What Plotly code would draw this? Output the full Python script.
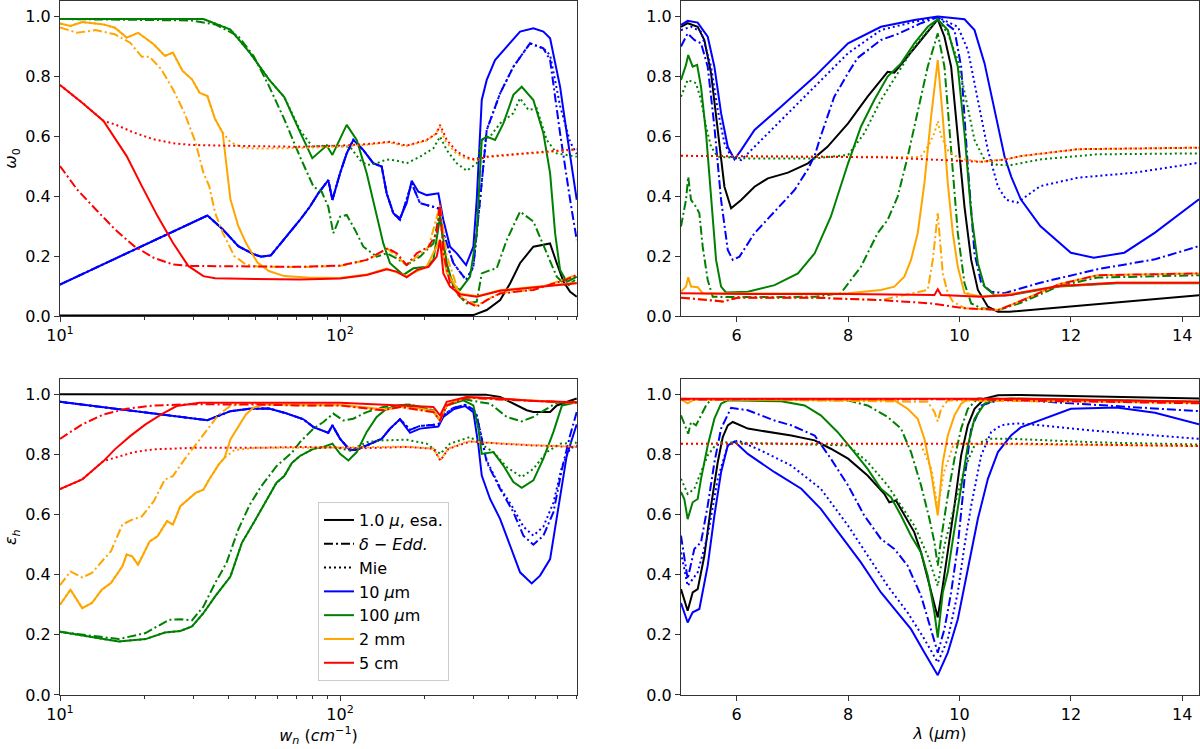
import plotly.graph_objects as go

# ---------------- top-left: single scattering albedo vs wavenumber ----------------
wn_w0_black = [10, 100, 280, 299, 334, 373, 405, 439, 490, 562, 594, 628, 663, 700]
w0_black = [0.002, 0.002, 0.002, 0.003, 0.02, 0.053, 0.109, 0.176, 0.231, 0.242, 0.176, 0.114, 0.081, 0.064]

wn_w0_blue = [10, 33.6, 38.1, 43.3, 49.1, 52.3, 56.6, 63.2, 71.9, 78, 83.6, 90.8, 93.9, 100,
              105.6, 111.5, 121.1, 131.5, 140.8, 146.7, 155, 163.7, 172.9, 180.2, 190.4, 203.9,
              224.4, 233.8, 247, 261, 281.8, 299.2, 307.6, 320.6, 334, 357.6, 393.6, 439.3,
              490, 532.1, 562.3, 610.5, 645, 700]
w0_blue = [0.105, 0.335, 0.289, 0.233, 0.206, 0.198, 0.202, 0.256, 0.32, 0.364, 0.409, 0.453, 0.387, 0.476,
           0.542, 0.587, 0.553, 0.509, 0.498, 0.409, 0.342, 0.326, 0.376, 0.451, 0.414, 0.403,
           0.409, 0.32, 0.231, 0.209, 0.17, 0.231, 0.387, 0.72, 0.787, 0.853, 0.898, 0.948,
           0.959, 0.948, 0.926, 0.764, 0.609, 0.387]

wn_w0_blue_dd = [10, 33.6, 38.1, 43.3, 49.1, 52.3, 56.6, 63.2, 71.9, 78, 83.6, 90.8, 93.9, 100,
                 105.6, 111.5, 121.1, 131.5, 140.8, 146.7, 155, 163.7, 180.2, 193, 224.4, 233.8,
                 253.9, 281.8, 299.2, 316.2, 334, 372.7, 415.8, 476.8, 532.1, 562.3, 610.5, 663, 700]
w0_blue_dd = [0.105, 0.335, 0.289, 0.233, 0.206, 0.198, 0.202, 0.256, 0.32, 0.364, 0.409, 0.453, 0.387, 0.476,
              0.542, 0.587, 0.553, 0.509, 0.498, 0.409, 0.342, 0.32, 0.442, 0.376, 0.359, 0.276,
              0.176, 0.12, 0.164, 0.387, 0.62, 0.742, 0.831, 0.909, 0.892, 0.853, 0.609, 0.387, 0.253]

wn_w0_blue_mie = [10, 33.6, 38.1, 43.3, 49.1, 52.3, 56.6, 63.2, 71.9, 78, 83.6, 90.8, 93.9, 100,
                  105.6, 111.5, 121.1, 131.5, 140.8, 146.7, 155, 163.7, 180.2, 193, 224.4, 233.8,
                  253.9, 281.8, 299.2, 316.2, 334, 372.7, 415.8, 476.8, 532.1, 562.3, 610.5, 663, 700]
w0_blue_mie = [0.105, 0.335, 0.289, 0.233, 0.206, 0.198, 0.202, 0.256, 0.32, 0.364, 0.409, 0.453, 0.387, 0.476,
               0.542, 0.587, 0.553, 0.509, 0.498, 0.409, 0.342, 0.32, 0.442, 0.376, 0.359, 0.276,
               0.176, 0.12, 0.164, 0.387, 0.62, 0.742, 0.831, 0.909, 0.892, 0.87, 0.7, 0.58, 0.54]

wn_w0_green = [10, 32.5, 40.6, 47.6, 55.7, 63.2, 71.9, 79.6, 89.6, 93.9, 105.6, 114.7, 124.5,
               135.1, 142.7, 150.8, 168.3, 182.7, 203.9, 215.4, 227.5, 240.4, 253.9, 268.2, 291.2,
               307.6, 320.6, 334, 357.6, 383, 415.8, 445.3, 490, 532.1, 562.3, 585.9, 610.5, 645, 700]
w0_green = [0.99, 0.99, 0.955, 0.878, 0.789, 0.73, 0.614, 0.526, 0.568, 0.537, 0.637, 0.587, 0.476,
            0.331, 0.242, 0.176, 0.137, 0.159, 0.164, 0.187, 0.33, 0.176, 0.098, 0.087, 0.131,
            0.276, 0.587, 0.598, 0.587, 0.642, 0.737, 0.764, 0.72, 0.609, 0.476, 0.276, 0.153, 0.114, 0.131]

wn_w0_green_dd = [10, 29.6, 35.8, 43.3, 49.1, 55.7, 63.2, 71.9, 80.4, 86, 90.8, 94.6, 100,
                  105.6, 113.1, 121.1, 135.1, 146.7, 159.3, 172.9, 193, 215.4, 226.3, 240.4, 261,
                  283.3, 307.6, 320.6, 343.3, 362.6, 393.6, 439.3, 490, 547, 594, 645, 700]
w0_green_dd = [0.99, 0.985, 0.972, 0.933, 0.867, 0.767, 0.656, 0.531, 0.431, 0.414, 0.364, 0.276, 0.331,
               0.337, 0.287, 0.231, 0.198, 0.209, 0.192, 0.17, 0.198, 0.242, 0.342, 0.164, 0.076,
               0.042, 0.048, 0.142, 0.153, 0.159, 0.253, 0.348, 0.315, 0.209, 0.131, 0.098, 0.125]

wn_w0_green_mie = [10, 32.5, 40.6, 47.6, 55.7, 63.2, 71.9, 79.6, 89.6, 100, 108.5, 117.8, 124.5,
                   135.1, 146.7, 159.3, 172.9, 193, 215.4, 227.5, 240.4, 261, 283.3, 307.6, 320.6,
                   343.3, 372.7, 415.8, 439.3, 470.4, 503.7, 547, 594, 700]
w0_green_mie = [0.99, 0.99, 0.955, 0.878, 0.789, 0.73, 0.62, 0.565, 0.568, 0.565, 0.564, 0.52, 0.503,
                0.509, 0.522, 0.518, 0.509, 0.531, 0.559, 0.598, 0.553, 0.509, 0.484, 0.509, 0.587,
                0.598, 0.642, 0.676, 0.726, 0.687, 0.692, 0.587, 0.542, 0.531]

wn_w0_orange = [10, 10.9, 12.0, 14.3, 15.7, 17.3, 19.0, 21.6, 23.7, 25.3, 27.4, 29.6, 31.5,
                33.6, 35.8, 38.1, 40.6, 43.3, 46.1, 50.7, 55.7, 63.2, 76.4, 100, 124.5,
                146.7, 172.9, 203.9, 227.5, 240.4, 268.2, 307.6, 372.7, 490, 700]
w0_orange = [0.975, 0.967, 0.98, 0.972, 0.961, 0.928, 0.944, 0.906, 0.867, 0.878, 0.817, 0.789, 0.744,
             0.733, 0.656, 0.611, 0.389, 0.3, 0.244, 0.178, 0.15, 0.133, 0.128, 0.127, 0.138,
             0.158, 0.133, 0.165, 0.255, 0.145, 0.075, 0.066, 0.086, 0.097, 0.111]

wn_w0_orange_dd = [10, 11.5, 13.4, 15.7, 17.8, 19.6, 20.9, 23.0, 25.3, 27.8, 30.5, 32.5, 34.1,
                   35.8, 38.1, 41.9, 46.1, 50.7, 71.9, 100, 124.5, 148, 172.9, 207, 227.5,
                   240.4, 268.2, 307.6, 372.7, 490, 645, 700]
w0_orange_dd = [0.962, 0.944, 0.953, 0.939, 0.911, 0.864, 0.864, 0.822, 0.756, 0.678, 0.578, 0.478, 0.433,
                0.344, 0.278, 0.2, 0.172, 0.165, 0.163, 0.167, 0.186, 0.224, 0.17, 0.23, 0.37,
                0.2, 0.066, 0.035, 0.077, 0.088, 0.125, 0.138]

wn_w0_orange_mie = [10, 10.9, 12.0, 14.3, 15.7, 17.3, 19.0, 21.6, 23.7, 25.3, 27.4, 29.6, 31.5,
                    33.6, 35.8, 38.1, 40.6, 44.6, 50, 72, 100, 124.5, 149, 171, 204, 219, 227.5,
                    237, 257, 278, 304, 331, 424, 560, 700]
w0_orange_mie = [0.975, 0.967, 0.98, 0.972, 0.961, 0.928, 0.944, 0.906, 0.867, 0.878, 0.817, 0.789, 0.744,
                 0.733, 0.656, 0.611, 0.58, 0.562, 0.558, 0.56, 0.565, 0.571, 0.579, 0.566, 0.585, 0.607, 0.63,
                 0.585, 0.546, 0.527, 0.518, 0.529, 0.538, 0.546, 0.554]

wn_w0_red = [10, 12.0, 14.3, 15.2, 17.3, 19.6, 22.3, 25.3, 28.7, 32.5, 35.8, 50, 71.9,
             100, 124.5, 146.7, 159.3, 172.9, 187.8, 207, 221.4, 227.5, 233.8, 247, 268.2,
             307.6, 372.7, 490, 700]
w0_red = [0.77, 0.711, 0.65, 0.611, 0.533, 0.433, 0.333, 0.244, 0.167, 0.133, 0.126, 0.123, 0.122,
          0.125, 0.137, 0.156, 0.148, 0.129, 0.153, 0.164, 0.198, 0.253, 0.142, 0.098, 0.072,
          0.064, 0.084, 0.095, 0.109]

wn_w0_red_dd = [10, 11.5, 13.4, 15.7, 18.4, 21.6, 25.3, 29.6, 50, 71.9, 100, 124.5, 148,
                159.3, 172.9, 187.8, 207, 221.4, 227.5, 233.8, 247, 268.2, 283.3, 307.6, 334,
                372.7, 490, 645, 700]
w0_red_dd = [0.5, 0.422, 0.356, 0.289, 0.233, 0.194, 0.172, 0.167, 0.165, 0.164, 0.168, 0.187, 0.226,
             0.209, 0.17, 0.209, 0.231, 0.276, 0.376, 0.209, 0.109, 0.064, 0.048, 0.031, 0.053,
             0.075, 0.087, 0.122, 0.137]

wn_w0_red_mie = [10, 12.0, 14.3, 15.7, 18.4, 21.6, 25.3, 29.6, 50, 71.9, 100, 124.5, 150.8,
                 172.9, 203.9, 221.4, 227.5, 240.4, 261, 283.3, 307.6, 334, 427.4, 562.3, 700]
w0_red_mie = [0.77, 0.711, 0.65, 0.639, 0.611, 0.589, 0.576, 0.57, 0.566, 0.564, 0.568, 0.573, 0.581,
              0.568, 0.587, 0.609, 0.637, 0.587, 0.548, 0.529, 0.52, 0.531, 0.54, 0.548, 0.556]

# ---------------- top-right: single scattering albedo vs wavelength ----------------
lam_w0_black = [5.0, 5.12, 5.3, 5.42, 5.54, 5.66, 5.78, 5.9, 6.08, 6.32, 6.56, 6.92, 7.28,
                7.63, 8.0, 8.35, 8.71, 8.83, 9.07, 9.31, 9.61, 9.73, 9.85, 9.97, 10.09,
                10.21, 10.33, 10.51, 10.69, 10.9, 14.3]
w0l_black = [0.964, 0.976, 0.964, 0.92, 0.809, 0.609, 0.431, 0.359, 0.387, 0.431, 0.459, 0.478, 0.509,
             0.564, 0.642, 0.731, 0.814, 0.811, 0.864, 0.92, 0.989, 0.931, 0.831, 0.609, 0.364,
             0.187, 0.087, 0.031, 0.014, 0.014, 0.069]

lam_w0_blue = [5.0, 5.12, 5.3, 5.48, 5.6, 5.72, 5.84, 5.96, 6.08, 6.32, 6.8, 7.4, 8.0,
               8.59, 9.19, 9.61, 10.09, 10.27, 10.45, 10.63, 10.81, 10.93, 11.1, 11.45, 12.0,
               12.41, 12.96, 13.51, 14.3]
w0l_blue = [0.97, 0.984, 0.978, 0.931, 0.831, 0.676, 0.564, 0.522, 0.553, 0.62, 0.698, 0.798, 0.909,
            0.964, 0.987, 0.998, 0.989, 0.953, 0.842, 0.687, 0.531, 0.464, 0.389, 0.3, 0.211,
            0.194, 0.211, 0.278, 0.389]

lam_w0_blue_dd = [5.0, 5.12, 5.24, 5.36, 5.48, 5.6, 5.72, 5.84, 5.93, 6.05, 6.32, 6.8, 7.04, 7.28,
                  7.4, 7.51, 7.75, 8.0, 8.17, 8.59, 8.89, 9.31, 9.61, 9.91, 10.03, 10.15, 10.27,
                  10.39, 10.57, 10.81, 11.45, 12.48, 13.51, 14.3]
w0l_blue_dd = [0.898, 0.942, 0.92, 0.909, 0.831, 0.631, 0.387, 0.22, 0.187, 0.198, 0.276, 0.37, 0.42, 0.49,
               0.535, 0.6, 0.73, 0.81, 0.86, 0.92, 0.94, 0.976, 0.996, 0.953, 0.831, 0.498, 0.209,
               0.109, 0.081, 0.076, 0.111, 0.156, 0.189, 0.233]

lam_w0_blue_mie = [5.0, 5.18, 5.36, 5.54, 5.66, 5.78, 5.9, 6.08, 6.32, 6.8, 7.4, 8.0, 8.59,
                   9.19, 9.61, 9.97, 10.15, 10.33, 10.51, 10.69, 10.84, 11.04, 11.45, 12.13, 13.16, 14.3]
w0l_blue_mie = [0.953, 0.964, 0.948, 0.831, 0.687, 0.576, 0.531, 0.52, 0.564, 0.653, 0.764, 0.876, 0.953,
                0.981, 0.996, 0.964, 0.887, 0.72, 0.553, 0.431, 0.387, 0.378, 0.433, 0.461, 0.478, 0.511]

lam_w0_green = [5.0, 5.09, 5.13, 5.21, 5.29, 5.36, 5.45, 5.54, 5.63, 5.72, 5.81, 6.2, 6.68,
                7.1, 7.4, 7.69, 8.0, 8.23, 8.47, 8.71, 8.95, 9.19, 9.43, 9.61, 9.79,
                9.97, 10.09, 10.21, 10.33, 10.45, 10.63, 10.81, 11.1, 11.79, 12.82, 14.3]
w0l_green = [0.787, 0.837, 0.87, 0.831, 0.837, 0.764, 0.609, 0.387, 0.187, 0.098, 0.078, 0.081, 0.103,
             0.142, 0.209, 0.331, 0.509, 0.631, 0.72, 0.798, 0.842, 0.909, 0.964, 0.989, 0.953,
             0.831, 0.609, 0.342, 0.176, 0.098, 0.07, 0.068, 0.076, 0.098, 0.109, 0.109]

lam_w0_green_dd = [5.0, 5.09, 5.13, 5.18, 5.27, 5.33, 5.39, 5.48, 5.57, 6.2, 7.4, 7.87, 8.23,
                   8.53, 8.71, 8.89, 9.07, 9.25, 9.43, 9.61, 9.73, 9.85, 9.97, 10.09, 10.21,
                   10.39, 10.7, 11.1, 11.79, 12.48, 14.3]
w0l_green_dd = [0.298, 0.387, 0.464, 0.387, 0.364, 0.342, 0.231, 0.12, 0.064, 0.063, 0.064, 0.076, 0.164,
                0.276, 0.32, 0.398, 0.531, 0.676, 0.831, 0.942, 0.831, 0.553, 0.276, 0.109, 0.042,
                0.026, 0.02, 0.044, 0.1, 0.128, 0.136]

lam_w0_green_mie = [5.0, 5.12, 5.27, 5.36, 5.45, 5.54, 5.66, 6.2, 7.4, 8.0, 8.29, 8.59, 8.89,
                    9.19, 9.61, 9.79, 9.97, 10.15, 10.27, 10.45, 10.69, 10.93, 11.45, 12.48, 14.3]
w0l_green_mie = [0.731, 0.787, 0.776, 0.72, 0.631, 0.564, 0.531, 0.525, 0.525, 0.537, 0.609, 0.72, 0.809,
                 0.898, 0.989, 0.942, 0.853, 0.698, 0.587, 0.52, 0.503, 0.503, 0.522, 0.539, 0.542]

lam_w0_orange = [5.0, 5.09, 5.13, 5.18, 5.3, 5.39, 6.0, 8.0, 8.59, 8.83, 9.01, 9.13, 9.25,
                 9.37, 9.49, 9.61, 9.7, 9.79, 9.88, 9.97, 10.09, 10.4, 11.1, 11.79, 12.82, 14.3]
w0l_orange = [0.081, 0.098, 0.129, 0.098, 0.096, 0.076, 0.075, 0.076, 0.087, 0.098, 0.131, 0.187, 0.276,
              0.442, 0.664, 0.853, 0.664, 0.442, 0.276, 0.164, 0.076, 0.064, 0.078, 0.1, 0.111, 0.111]

lam_w0_orange_dd = [5.0, 5.6, 5.75, 6.02, 7.4, 8.59, 9.43, 9.52, 9.61, 9.7, 9.79, 9.88, 10.09,
                    10.7, 11.1, 11.79, 12.48, 14.3]
w0l_orange_dd = [0.061, 0.053, 0.048, 0.061, 0.061, 0.053, 0.087, 0.187, 0.342, 0.142, 0.076, 0.048, 0.026,
                 0.02, 0.05, 0.106, 0.136, 0.142]

lam_w0_orange_mie = [5.0, 8.59, 9.3, 9.45, 9.55, 9.61, 9.67, 9.8, 10.0, 10.39, 10.83, 11.1, 12.13, 14.3]
w0l_orange_mie = [0.534, 0.529, 0.53, 0.57, 0.61, 0.65, 0.6, 0.55, 0.525, 0.514, 0.522, 0.533, 0.556, 0.561]

lam_w0_red = [5.0, 6.2, 8.0, 9.55, 9.61, 9.67, 10.39, 10.93, 11.1, 11.79, 12.82, 14.3]
w0l_red = [0.076, 0.073, 0.073, 0.07, 0.089, 0.07, 0.064, 0.07, 0.078, 0.1, 0.111, 0.111]

lam_w0_red_dd = [5.0, 5.54, 5.75, 6.02, 7.4, 8.59, 9.49, 10.09, 10.7, 11.1, 11.79, 12.48, 14.3]
w0l_red_dd = [0.061, 0.053, 0.048, 0.061, 0.061, 0.053, 0.042, 0.026, 0.02, 0.05, 0.106, 0.136, 0.142]

lam_w0_red_mie = [5.0, 8.59, 10.39, 10.83, 11.1, 12.13, 14.3]
w0l_red_mie = [0.534, 0.529, 0.514, 0.522, 0.533, 0.556, 0.561]

# ---------------- bottom-left: emissivity vs wavenumber ----------------
wn_eh_black = [10, 280, 331, 372.7, 415.8, 464, 490, 562.3, 594, 645, 700]
eh_black = [1.0, 1.0, 0.999, 0.991, 0.969, 0.947, 0.941, 0.941, 0.963, 0.974, 0.986]

wn_eh_blue = [10, 33.6, 40.6, 47.6, 55.7, 63.2, 74.0, 80.4, 90.8, 93.9, 100, 108.5, 114.7,
              127.9, 140.8, 150.8, 163.7, 177.8, 193, 224.4, 233.8, 253.9, 279.4, 299.2, 311.8,
              320.6, 343.3, 372.7, 404.6, 439.3, 483.4, 517.7, 562.3, 594, 645, 700]
eh_blue = [0.975, 0.914, 0.944, 0.952, 0.953, 0.939, 0.917, 0.891, 0.872, 0.897, 0.852, 0.814, 0.816,
           0.836, 0.852, 0.886, 0.917, 0.872, 0.886, 0.893, 0.925, 0.95, 0.961, 0.941, 0.83,
           0.73, 0.652, 0.586, 0.497, 0.408, 0.371, 0.397, 0.452, 0.586, 0.797, 0.9]

wn_eh_blue_dd = [10, 33.6, 40.6, 47.6, 55.7, 63.2, 74.0, 80.4, 90.8, 93.9, 100, 108.5, 114.7,
                 127.9, 140.8, 150.8, 163.7, 177.8, 193, 224.4, 233.8, 253.9, 279.4, 299.2,
                 307.6, 334, 372.7, 415.8, 451.4, 490, 532.1, 578, 620, 663, 700]
eh_blue_dd = [0.975, 0.914, 0.944, 0.952, 0.953, 0.939, 0.917, 0.891, 0.872, 0.897, 0.852, 0.814, 0.816,
              0.836, 0.852, 0.886, 0.917, 0.882, 0.895, 0.9, 0.93, 0.955, 0.965, 0.95,
              0.93, 0.774, 0.686, 0.608, 0.53, 0.5, 0.53, 0.608, 0.752, 0.864, 0.941]

wn_eh_blue_mie = [10, 33.6, 40.6, 47.6, 55.7, 63.2, 74.0, 80.4, 90.8, 93.9, 100, 108.5, 114.7,
                  127.9, 140.8, 150.8, 163.7, 177.8, 193, 224.4, 233.8, 253.9, 279.4, 299.2,
                  307.6, 334, 372.7, 415.8, 451.4, 490, 532.1, 578, 620, 663, 700]
eh_blue_mie = [0.975, 0.914, 0.944, 0.952, 0.953, 0.939, 0.917, 0.891, 0.872, 0.897, 0.852, 0.814, 0.816,
               0.836, 0.852, 0.886, 0.917, 0.882, 0.895, 0.9, 0.93, 0.955, 0.965, 0.95,
               0.93, 0.78, 0.69, 0.62, 0.56, 0.53, 0.56, 0.64, 0.76, 0.82, 0.83]

wn_eh_green = [10, 13.4, 16.2, 20.2, 23.7, 26.9, 29.6, 32.5, 35.8, 40.6, 44.6, 49.1, 54.0,
               59.3, 63.2, 67.3, 71.9, 80.4, 87.2, 93.9, 100, 107.1, 114.7, 124.5, 135.1,
               146.7, 159.3, 172.9, 193, 215.4, 227.5, 240.4, 275.6, 299.2, 311.8, 320.6, 352.8,
               383, 415.8, 445.3, 490, 532.1, 578, 620, 700]
eh_green = [0.21, 0.191, 0.178, 0.186, 0.208, 0.213, 0.228, 0.272, 0.328, 0.394, 0.506, 0.572, 0.639,
            0.706, 0.728, 0.772, 0.795, 0.819, 0.825, 0.836, 0.802, 0.78, 0.808, 0.875, 0.925,
            0.952, 0.961, 0.966, 0.958, 0.943, 0.913, 0.963, 0.98, 0.963, 0.886, 0.802, 0.808,
            0.763, 0.708, 0.689, 0.714, 0.786, 0.875, 0.963, 0.974]

wn_eh_green_dd = [10, 16.2, 20.2, 24.5, 26.9, 29.6, 32.5, 35.8, 39.3, 43.3, 47.6, 52.3,
                  59.3, 67.3, 71.9, 80.4, 87.2, 94.6, 102.8, 111.5, 124.5, 142.7, 163.7, 177.8,
                  215.4, 227.5, 240.4, 271, 316.2, 343.3, 393.6, 445.3, 490, 547, 594, 700]
eh_green_dd = [0.21, 0.186, 0.206, 0.25, 0.252, 0.248, 0.294, 0.372, 0.439, 0.55, 0.633, 0.694,
               0.761, 0.806, 0.841, 0.886, 0.908, 0.936, 0.913, 0.919, 0.941, 0.958, 0.963, 0.966,
               0.947, 0.913, 0.963, 0.986, 0.974, 0.969, 0.925, 0.91, 0.925, 0.952, 0.972, 0.974]

wn_eh_green_mie = [10, 13.4, 16.2, 20.2, 23.7, 26.9, 29.6, 32.5, 35.8, 40.6, 44.6, 49.1, 54.0,
                   59.3, 63.2, 67.3, 71.9, 80.4, 94.6, 108.5, 124.5, 142.7, 172.9, 203.9, 228,
                   247, 291.2, 316.2, 352.8, 393.6, 445.3, 490, 547, 610.5, 700]
eh_green_mie = [0.21, 0.191, 0.178, 0.186, 0.208, 0.213, 0.228, 0.272, 0.328, 0.394, 0.506, 0.572, 0.639,
                0.706, 0.728, 0.772, 0.795, 0.82, 0.825, 0.813, 0.841, 0.847, 0.849, 0.836, 0.802,
                0.836, 0.858, 0.836, 0.808, 0.758, 0.725, 0.752, 0.808, 0.836, 0.839]

wn_eh_orange = [10, 10.9, 12.0, 13.0, 14.1, 15.2, 16.7, 17.3, 18.1, 19.0, 20.9, 22.3,
                24.1, 25.3, 26.9, 28.7, 30.5, 32.5, 34.1, 36.9, 38.7, 40.6, 43.3, 46.1,
                49.1, 54.0, 72, 100, 142.7, 172.9, 215.4, 227.5, 240.4, 280, 372.7, 700]
eh_orange = [0.3, 0.35, 0.289, 0.306, 0.35, 0.372, 0.428, 0.467, 0.461, 0.433, 0.511, 0.528,
             0.578, 0.567, 0.628, 0.65, 0.672, 0.683, 0.717, 0.767, 0.789, 0.85, 0.894, 0.933,
             0.956, 0.966, 0.966, 0.965, 0.95, 0.96, 0.945, 0.915, 0.965, 0.99, 0.985, 0.972]

wn_eh_orange_dd = [10, 10.9, 12.0, 13.0, 14.1, 15.2, 16.7, 18.1, 19.6, 21.6, 23.7, 25.3,
                   27.8, 30.5, 33.6, 36.9, 40.6, 46.1, 72, 100, 142.7, 162, 215.4, 227.5,
                   240.4, 280, 372.7, 700]
eh_orange_dd = [0.365, 0.411, 0.391, 0.406, 0.444, 0.478, 0.567, 0.583, 0.594, 0.644, 0.717, 0.728,
                0.783, 0.833, 0.883, 0.933, 0.961, 0.969, 0.963, 0.963, 0.947, 0.958, 0.941, 0.913,
                0.963, 0.989, 0.983, 0.972]

wn_eh_orange_mie = [10, 10.9, 12.0, 13.0, 14.1, 15.2, 16.7, 17.3, 18.1, 19.0, 20.9, 22.3,
                    24.1, 25.3, 26.9, 28.7, 30.5, 32.5, 34.1, 36.9, 38.7,
                    42, 50, 100, 171, 215.4, 228, 244, 285, 370, 490, 700]
eh_orange_mie = [0.3, 0.35, 0.289, 0.306, 0.35, 0.372, 0.428, 0.467, 0.461, 0.433, 0.511, 0.528,
                 0.578, 0.567, 0.628, 0.65, 0.672, 0.683, 0.717, 0.767, 0.789,
                 0.815, 0.822, 0.823, 0.826, 0.82, 0.781, 0.82, 0.844, 0.837, 0.831, 0.826]

wn_eh_red = [10, 12.0, 14.3, 15.7, 17.8, 20.2, 23.0, 26.1, 31.5, 50, 72, 100, 142.7,
             172.9, 215.4, 227.5, 240.4, 283.3, 372.7, 490, 700]
eh_red = [0.685, 0.717, 0.778, 0.817, 0.861, 0.9, 0.933, 0.961, 0.972, 0.973, 0.972, 0.972, 0.966,
          0.963, 0.958, 0.93, 0.975, 0.991, 0.986, 0.978, 0.974]

wn_eh_red_dd = [10, 12.0, 14.3, 17.3, 21.6, 29.6, 50, 72, 100, 142.7, 163.7, 215.4, 227.5,
                240.4, 283.3, 372.7, 700]
eh_red_dd = [0.852, 0.9, 0.933, 0.952, 0.963, 0.967, 0.966, 0.963, 0.963, 0.947, 0.958, 0.941, 0.913,
             0.963, 0.989, 0.983, 0.972]

wn_eh_red_mie = [10, 12.0, 14.3, 15.7, 18.4, 21.6, 29.6, 50, 72, 124.5, 172.9, 215.4, 228,
                 244, 291.2, 372.7, 490, 700]
eh_red_mie = [0.685, 0.717, 0.778, 0.789, 0.808, 0.817, 0.822, 0.822, 0.825, 0.821, 0.825, 0.819, 0.78,
              0.819, 0.843, 0.836, 0.83, 0.825]

# ---------------- bottom-right: emissivity vs wavelength ----------------
lam_eh_black = [5.0, 5.06, 5.12, 5.21, 5.3, 5.42, 5.54, 5.66, 5.75, 5.84, 5.93, 6.2, 6.56,
                6.98, 7.4, 7.69, 8.0, 8.35, 8.65, 8.74, 8.86, 9.01, 9.19, 9.31, 9.43,
                9.55, 9.61, 9.7, 9.79, 9.91, 10.03, 10.15, 10.27, 10.45, 10.69, 11.1, 14.3]
ehl_black = [0.352, 0.319, 0.28, 0.341, 0.352, 0.463, 0.63, 0.774, 0.858, 0.897, 0.908, 0.886, 0.875,
             0.863, 0.847, 0.819, 0.786, 0.73, 0.669, 0.641, 0.647, 0.597, 0.541, 0.474, 0.386,
             0.297, 0.258, 0.363, 0.474, 0.63, 0.797, 0.897, 0.952, 0.986, 0.997, 0.998, 0.986]

lam_eh_blue = [5.0, 5.12, 5.21, 5.33, 5.48, 5.6, 5.72, 5.84, 5.96, 6.2, 6.68, 7.16, 7.51,
               7.87, 8.23, 8.59, 8.83, 9.13, 9.37, 9.61, 9.79, 9.97, 10.15, 10.33, 10.51,
               10.69, 10.93, 11.1, 12.0, 12.82, 13.51, 14.3]
ehl_blue = [0.306, 0.241, 0.275, 0.286, 0.43, 0.597, 0.741, 0.83, 0.843, 0.802, 0.741, 0.686, 0.619,
            0.53, 0.441, 0.341, 0.286, 0.219, 0.141, 0.066, 0.141, 0.252, 0.419, 0.586, 0.719,
            0.808, 0.864, 0.89, 0.952, 0.956, 0.939, 0.9]

lam_eh_blue_dd = [5.0, 5.12, 5.24, 5.36, 5.48, 5.6, 5.72, 5.9, 6.2, 6.68, 6.98, 7.4, 7.69,
                  8.0, 8.29, 8.59, 8.83, 9.07, 9.31, 9.49, 9.61, 9.73, 9.85, 9.97, 10.09,
                  10.21, 10.39, 10.69, 10.93, 12.0, 14.3]
ehl_blue_dd = [0.53, 0.386, 0.486, 0.508, 0.63, 0.774, 0.886, 0.955, 0.947, 0.913, 0.897, 0.863, 0.786,
               0.697, 0.597, 0.519, 0.486, 0.43, 0.33, 0.219, 0.141, 0.219, 0.341, 0.497, 0.719,
               0.886, 0.963, 0.98, 0.983, 0.97, 0.944]

lam_eh_blue_mie = [5.0, 5.12, 5.3, 5.48, 5.66, 5.84, 6.02, 6.44, 6.98, 7.51, 8.0, 8.35, 8.71,
                   9.07, 9.37, 9.61, 9.79, 9.97, 10.09, 10.21, 10.39, 10.57, 10.75, 10.93, 11.1,
                   12.48, 14.3]
ehl_blue_mie = [0.474, 0.363, 0.408, 0.53, 0.719, 0.83, 0.847, 0.813, 0.763, 0.686, 0.563, 0.463, 0.363,
                0.274, 0.186, 0.108, 0.186, 0.341, 0.497, 0.63, 0.797, 0.875, 0.897, 0.902, 0.903,
                0.878, 0.852]

lam_eh_green = [5.0, 5.06, 5.12, 5.21, 5.3, 5.36, 5.48, 5.6, 5.72, 5.84, 6.8, 7.22, 7.51,
                7.81, 8.11, 8.35, 8.59, 8.77, 8.95, 9.13, 9.31, 9.43, 9.55, 9.61, 9.7,
                9.79, 9.91, 10.03, 10.15, 10.27, 10.45, 10.69, 10.93, 14.3]
ehl_green = [0.675, 0.652, 0.585, 0.641, 0.652, 0.719, 0.83, 0.919, 0.969, 0.98, 0.977, 0.963, 0.93,
             0.875, 0.808, 0.752, 0.686, 0.658, 0.597, 0.53, 0.474, 0.397, 0.274, 0.191, 0.341,
             0.408, 0.552, 0.697, 0.83, 0.919, 0.969, 0.983, 0.986, 0.975]

lam_eh_green_dd = [5.0, 5.09, 5.13, 5.18, 5.27, 5.36, 5.45, 5.54, 8.0, 8.35, 8.71, 8.95,
                   9.13, 9.31, 9.46, 9.55, 9.61, 9.67, 9.79, 9.91, 10.03, 10.15, 10.33, 14.3]
ehl_green_dd = [0.93, 0.886, 0.869, 0.908, 0.897, 0.93, 0.963, 0.983, 0.98, 0.963, 0.925, 0.886,
                0.808, 0.697, 0.586, 0.508, 0.43, 0.519, 0.663, 0.786, 0.886, 0.952, 0.986, 0.975]

lam_eh_green_mie = [5.0, 5.12, 5.24, 5.36, 5.48, 5.66, 8.0, 8.35, 8.71, 8.95, 9.19, 9.43,
                    9.61, 9.73, 9.91, 10.09, 10.27, 10.51, 10.93, 12.5, 14.3]
ehl_green_mie = [0.719, 0.669, 0.686, 0.741, 0.797, 0.841, 0.83, 0.775, 0.697, 0.63, 0.563, 0.463,
                 0.363, 0.497, 0.63, 0.752, 0.83, 0.852, 0.852, 0.84, 0.833]

lam_eh_orange = [5.0, 5.12, 5.24, 8.83, 9.07, 9.25, 9.37, 9.49, 9.61, 9.7, 9.79, 9.91, 10.03, 10.15, 14.3]
ehl_orange = [0.983, 0.97, 0.983, 0.98, 0.952, 0.919, 0.852, 0.741, 0.597, 0.774, 0.863, 0.93, 0.969, 0.983, 0.975]

lam_eh_orange_dd = [5.0, 9.43, 9.55, 9.61, 9.67, 9.79, 14.3]
ehl_orange_dd = [0.985, 0.975, 0.941, 0.91, 0.952, 0.98, 0.972]

lam_eh_orange_mie = [5.0, 9.3, 9.5, 9.61, 9.72, 9.9, 14.3]
ehl_orange_mie = [0.836, 0.836, 0.75, 0.62, 0.74, 0.836, 0.828]

lam_eh_red = [5.0, 10.0, 11.0, 14.3]
ehl_red = [0.985, 0.986, 0.985, 0.975]

lam_eh_red_dd = [5.0, 10.0, 11.0, 14.3]
ehl_red_dd = [0.983, 0.984, 0.98, 0.97]

lam_eh_red_mie = [5.0, 10.0, 11.0, 14.3]
ehl_red_mie = [0.836, 0.838, 0.836, 0.828]

legend_names = ["1.0 <i>μ</i>, esa.", "<i>δ − Edd.</i>", "Mie",
                "10 <i>μ</i>m", "100 <i>μ</i>m", "2 mm", "5 cm"]

# --------------------------------------------------------------------------
SOLID = "solid"
DASHDOT = "9px,3px,2px,3px"
DOT = "2px,3px"
COL = {"black": "black", "blue": "blue", "green": "green", "orange": "orange", "red": "red"}

fig = go.Figure()

# legend-only entries
leg_styles = [("black", SOLID), ("black", DASHDOT), ("black", DOT),
              ("blue", SOLID), ("green", SOLID), ("orange", SOLID), ("red", SOLID)]
for name, (c, d) in zip(legend_names, leg_styles):
    fig.add_trace(go.Scatter(x=[None], y=[None], mode="lines", name=name,
                             line=dict(color=COL[c], dash=d, width=2),
                             xaxis="x3", yaxis="y3"))


def add(x, y, c, d, ax):
    fig.add_trace(go.Scatter(x=x, y=y, mode="lines", showlegend=False, hoverinfo="skip",
                             line=dict(color=COL[c], dash=d, width=2),
                             xaxis="x" + ax, yaxis="y" + ax))


# top-left
add(wn_w0_black, w0_black, "black", SOLID, "")
add(wn_w0_blue, w0_blue, "blue", SOLID, "")
add(wn_w0_blue_dd, w0_blue_dd, "blue", DASHDOT, "")
add(wn_w0_blue_mie, w0_blue_mie, "blue", DOT, "")
add(wn_w0_green, w0_green, "green", SOLID, "")
add(wn_w0_green_dd, w0_green_dd, "green", DASHDOT, "")
add(wn_w0_green_mie, w0_green_mie, "green", DOT, "")
add(wn_w0_orange, w0_orange, "orange", SOLID, "")
add(wn_w0_orange_dd, w0_orange_dd, "orange", DASHDOT, "")
add(wn_w0_orange_mie, w0_orange_mie, "orange", DOT, "")
add(wn_w0_red, w0_red, "red", SOLID, "")
add(wn_w0_red_dd, w0_red_dd, "red", DASHDOT, "")
add(wn_w0_red_mie, w0_red_mie, "red", DOT, "")

# top-right
add(lam_w0_black, w0l_black, "black", SOLID, "2")
add(lam_w0_blue, w0l_blue, "blue", SOLID, "2")
add(lam_w0_blue_dd, w0l_blue_dd, "blue", DASHDOT, "2")
add(lam_w0_blue_mie, w0l_blue_mie, "blue", DOT, "2")
add(lam_w0_green, w0l_green, "green", SOLID, "2")
add(lam_w0_green_dd, w0l_green_dd, "green", DASHDOT, "2")
add(lam_w0_green_mie, w0l_green_mie, "green", DOT, "2")
add(lam_w0_orange, w0l_orange, "orange", SOLID, "2")
add(lam_w0_orange_dd, w0l_orange_dd, "orange", DASHDOT, "2")
add(lam_w0_orange_mie, w0l_orange_mie, "orange", DOT, "2")
add(lam_w0_red, w0l_red, "red", SOLID, "2")
add(lam_w0_red_dd, w0l_red_dd, "red", DASHDOT, "2")
add(lam_w0_red_mie, w0l_red_mie, "red", DOT, "2")

# bottom-left
add(wn_eh_black, eh_black, "black", SOLID, "3")
add(wn_eh_blue, eh_blue, "blue", SOLID, "3")
add(wn_eh_blue_dd, eh_blue_dd, "blue", DASHDOT, "3")
add(wn_eh_blue_mie, eh_blue_mie, "blue", DOT, "3")
add(wn_eh_green, eh_green, "green", SOLID, "3")
add(wn_eh_green_dd, eh_green_dd, "green", DASHDOT, "3")
add(wn_eh_green_mie, eh_green_mie, "green", DOT, "3")
add(wn_eh_orange, eh_orange, "orange", SOLID, "3")
add(wn_eh_orange_dd, eh_orange_dd, "orange", DASHDOT, "3")
add(wn_eh_orange_mie, eh_orange_mie, "orange", DOT, "3")
add(wn_eh_red, eh_red, "red", SOLID, "3")
add(wn_eh_red_dd, eh_red_dd, "red", DASHDOT, "3")
add(wn_eh_red_mie, eh_red_mie, "red", DOT, "3")

# bottom-right
add(lam_eh_black, ehl_black, "black", SOLID, "4")
add(lam_eh_blue, ehl_blue, "blue", SOLID, "4")
add(lam_eh_blue_dd, ehl_blue_dd, "blue", DASHDOT, "4")
add(lam_eh_blue_mie, ehl_blue_mie, "blue", DOT, "4")
add(lam_eh_green, ehl_green, "green", SOLID, "4")
add(lam_eh_green_dd, ehl_green_dd, "green", DASHDOT, "4")
add(lam_eh_green_mie, ehl_green_mie, "green", DOT, "4")
add(lam_eh_orange, ehl_orange, "orange", SOLID, "4")
add(lam_eh_orange_dd, ehl_orange_dd, "orange", DASHDOT, "4")
add(lam_eh_orange_mie, ehl_orange_mie, "orange", DOT, "4")
add(lam_eh_red, ehl_red, "red", SOLID, "4")
add(lam_eh_red_dd, ehl_red_dd, "red", DASHDOT, "4")
add(lam_eh_red_mie, ehl_red_mie, "red", DOT, "4")

FONT = dict(family="DejaVu Sans", size=16, color="black")
frame = dict(showline=True, linecolor="#333", linewidth=1, mirror=True, ticks="outside",
             ticklen=5, tickwidth=1, tickcolor="#333", showgrid=False, zeroline=False,
             tickfont=FONT, automargin=False)

minor_wn = [20, 30, 40, 50, 60, 70, 80, 90, 200, 300, 400, 500, 600, 700]
logx = dict(frame, type="log", range=[1, 2.846], tickvals=[10, 100],
            ticktext=["10<sup>1</sup>", "10<sup>2</sup>"],
            minor=dict(tickvals=minor_wn, ticks="outside", ticklen=3, tickcolor="#333"))
linx = dict(frame, range=[5, 14.3], tickvals=[6, 8, 10, 12, 14])
yax = dict(frame, range=[0, 1.05], tickvals=[0, 0.2, 0.4, 0.6, 0.8, 1.0], tickformat=".1f")

LEFT = [0, 0.4539]
RIGHT = [0.5452, 1]
TOP = [0.5461, 1]
BOT = [0, 0.4549]

fig.update_layout(
    width=1200, height=749,
    margin=dict(l=60, r=1, t=1, b=54),
    paper_bgcolor="white", plot_bgcolor="white",
    font=FONT,
    xaxis=dict(logx, domain=LEFT, anchor="y"),
    yaxis=dict(yax, domain=TOP, anchor="x",
               title=dict(text="<i>ω</i><sub>0</sub>", font=FONT, standoff=4)),
    xaxis2=dict(linx, domain=RIGHT, anchor="y2"),
    yaxis2=dict(yax, domain=TOP, anchor="x2"),
    xaxis3=dict(logx, domain=LEFT, anchor="y3",
                title=dict(text="<i>w<sub>n</sub></i> (<i>cm</i><sup>−1</sup>)", font=FONT, standoff=0)),
    yaxis3=dict(yax, domain=BOT, anchor="x3",
                title=dict(text="<i>ε<sub>h</sub></i>", font=FONT, standoff=4)),
    xaxis4=dict(linx, domain=RIGHT, anchor="y4",
                title=dict(text="<i>λ</i> (<i>μm</i>)", font=FONT, standoff=0)),
    yaxis4=dict(yax, domain=BOT, anchor="x4"),
    legend=dict(x=0.2265, y=0.278, xanchor="left", yanchor="top",
                bgcolor="white", bordercolor="#cccccc", borderwidth=1,
                font=FONT, tracegroupgap=0),
)

# the page's default body margin would push the figure 8 px right and down
fig.write_html("out.html", config={"displayModeBar": False},
               post_script="document.body.style.margin='0px';")
